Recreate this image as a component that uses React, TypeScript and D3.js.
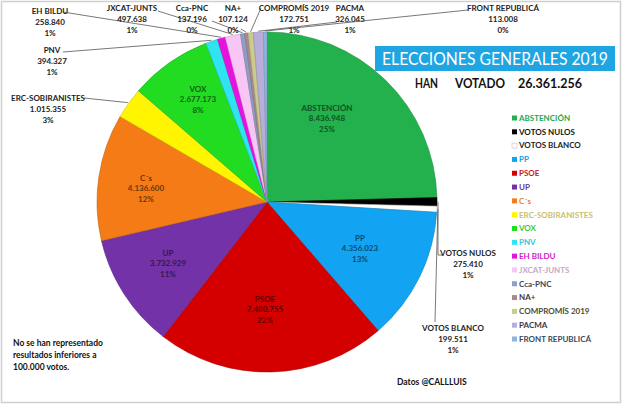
import * as d3 from 'd3';

// datos (votos)
const parties = [
    'ABSTENCIÓN', 'VOTOS NULOS', 'VOTOS BLANCO', 'PP', 'PSOE', 'UP', 'C´s',
    'ERC-SOBIRANISTES', 'VOX', 'PNV', 'EH BILDU', 'JXCAT-JUNTS', 'Cca-PNC',
    'NA+', 'COMPROMÍS 2019', 'PACMA', 'FRONT REPUBLICÁ',
];
const votes = [
    8436948, 275410, 199511, 4356023, 7480755, 3732929, 4136600,
    1015355, 2677173, 394327, 258840, 497638, 137196,
    107124, 172751, 326045, 113008,
];
const colors = [
    '#22B14C', '#000000', '#FFFFFF', '#12A4F2', '#D40000', '#7432A8', '#F47B16',
    '#FFF500', '#22DC22', '#2EE4F0', '#E812E0', '#F8C6F4', '#8E9EC6',
    '#A88A8E', '#CCCB8E', '#B7AEDA', '#8DB6DE',
];
const legendTextColors = [
    '#22A850', '#111111', '#222222', '#1E9BE0', '#C81818', '#6A30A0', '#E88030',
    '#C8C070', '#38C838', '#30C8D8', '#D020C8', '#C8A8C8', '#3A4460',
    '#4A3434', '#4A4A30', '#3A3448', '#3A4A5C',
];
const votedWords = ['HAN', 'VOTADO', '26.361.256'];

const inside = ['ABSTENCIÓN', 'PP', 'PSOE', 'UP', 'C´s', 'VOX'];

const W = 625;
const H = 407;
const cx = 267;
const cy = 202;
const R = 170;

const insidePos: Record<string, [number, number]> = {
    'ABSTENCIÓN': [327, 108],
    'PP': [360, 238],
    'PSOE': [265, 299],
    'UP': [168, 253],
    'C´s': [146, 178],
    'VOX': [198, 89],
};

// etiquetas exteriores: centro del texto, inicio de la línea
const outsidePos: Record<string, { t: [number, number]; l: [number, number][] }> = {
    'EH BILDU': { t: [50, 11], l: [[63, 12]] },
    'PNV': { t: [52, 50], l: [[63, 52]] },
    'ERC-SOBIRANISTES': { t: [48, 98], l: [[84, 98]] },
    'JXCAT-JUNTS': { t: [132, 8], l: [[158, 11]] },
    'Cca-PNC': { t: [192, 8], l: [[212, 21]] },
    'NA+': { t: [233, 8], l: [[241, 29]] },
    'COMPROMÍS 2019': { t: [294, 8], l: [[261, 8]] },
    'PACMA': { t: [350, 8], l: [[337, 22]] },
    'FRONT REPUBLICÁ': { t: [503, 8], l: [[468, 10]] },
    'VOTOS NULOS': { t: [468, 253], l: [[442, 255], [438, 255]] },
    'VOTOS BLANCO': { t: [453, 328], l: [[435, 322]] },
};

// posiciones de "HAN VOTADO ..."
const votedX = [415, 455, 518];
const votedLen = [23, 50, 64];

const locale = d3.formatLocale({ decimal: ',', thousands: '.', grouping: [3], currency: ['', ''] });
const fmt = locale.format(',d');

const FONT = 'Lato, "Open Sans", sans-serif';

export default function App() {
    const data = parties.map((name, i) => ({ name, value: votes[i], color: colors[i] }));
    const total = d3.sum(votes);
    const pct = (v: number) => `${Math.round((v / total) * 100)}%`;

    const pie = d3.pie<{ name: string; value: number; color: string }>()
        .sort(null)
        .value((d) => d.value)
        .startAngle(0)
        .endAngle(2 * Math.PI);
    const arcs = pie(data);
    const arc = d3.arc<d3.PieArcDatum<any>>().innerRadius(0).outerRadius(R);
    const edge = d3.arc<d3.PieArcDatum<any>>().innerRadius(R + 1).outerRadius(R + 1);

    const legendY = d3.scalePoint<string>().domain(parties).range([118, 339]);

    return (
        <svg width={W} height={H} style={{ position: 'absolute', left: 0, top: 0, background: '#fff' }}
            fontFamily={FONT}>
            <rect x={1.5} y={1.5} width={619} height={401} fill="#fff" stroke="#cfcfcf" strokeWidth={1.5} />

            <g transform={`translate(${cx},${cy})`}>
                {arcs.map((a) => (
                    <path key={a.data.name} d={arc(a) || ''} fill={a.data.color}
                        stroke={a.data.name === 'VOTOS BLANCO' ? '#bbb' : d3.color(a.data.color)!.darker(0.6).formatHex()}
                        strokeWidth={0.6} />
                ))}
            </g>

            {arcs.filter((a) => outsidePos[a.data.name]).map((a) => {
                const p = outsidePos[a.data.name];
                const [ex, ey] = edge.centroid(a);
                const pts = [...p.l, [ex + cx, ey + cy]];
                return (
                    <g key={a.data.name}>
                        <polyline points={pts.map((q) => q.join(',')).join(' ')} fill="none" stroke="#555" strokeWidth={0.8} />
                        <text x={p.t[0]} y={p.t[1]} textAnchor="middle" fontSize={8} fontWeight="bold" fill="#222">
                            <tspan x={p.t[0]} dy="0.35em">{a.data.name}</tspan>
                            <tspan x={p.t[0]} dy="11">{fmt(a.data.value)}</tspan>
                            <tspan x={p.t[0]} dy="11">{pct(a.data.value)}</tspan>
                        </text>
                    </g>
                );
            })}

            {arcs.filter((a) => inside.includes(a.data.name)).map((a) => {
                const [x, y] = insidePos[a.data.name];
                const c = d3.color(a.data.color)!.darker(2.2).formatHex();
                return (
                    <text key={a.data.name} x={x} y={y} textAnchor="middle" fontSize={8} fontWeight="bold" fill={c}>
                        <tspan x={x} dy="0.35em">{a.data.name}</tspan>
                        <tspan x={x} dy="10.5">{fmt(a.data.value)}</tspan>
                        <tspan x={x} dy="10.5">{pct(a.data.value)}</tspan>
                    </text>
                );
            })}

            <rect x={375} y={46} width={240} height={25} fill="#1FA6E2" />
            <text x={495} y={59} textAnchor="middle" dy="0.36em" fontSize={17} fill="#fff"
                textLength={226} lengthAdjust="spacingAndGlyphs">
                ELECCIONES GENERALES 2019
            </text>
            {votedWords.map((w, i) => (
                <text key={w} x={votedX[i]} y={83} dy="0.35em" fontSize={13} fontWeight="bold" fill="#111"
                    textLength={votedLen[i]} lengthAdjust="spacingAndGlyphs">{w}</text>
            ))}

            {parties.map((name, i) => (
                <g key={name} transform={`translate(512,${legendY(name)})`}>
                    <rect x={0} y={-2.5} width={5} height={5} fill={colors[i]}
                        stroke={name === 'VOTOS BLANCO' ? '#c8b8d8' : 'none'} strokeWidth={0.6} />
                    <text x={7} dy="0.35em" fontSize={8} fontWeight="bold" fill={legendTextColors[i]}>{name}</text>
                </g>
            ))}

            <text x={13} y={343} fontSize={8.5} fontWeight="bold" fill="#111">
                <tspan x={13} dy="0.35em">No se han representado</tspan>
                <tspan x={13} dy="12">resultados inferiores a</tspan>
                <tspan x={13} dy="12">100.000 votos.</tspan>
            </text>
            <text x={397} y={382} dy="0.35em" fontSize={8.5} fontWeight="bold" fill="#111">Datos @CALLLUIS</text>
        </svg>
    );
}
